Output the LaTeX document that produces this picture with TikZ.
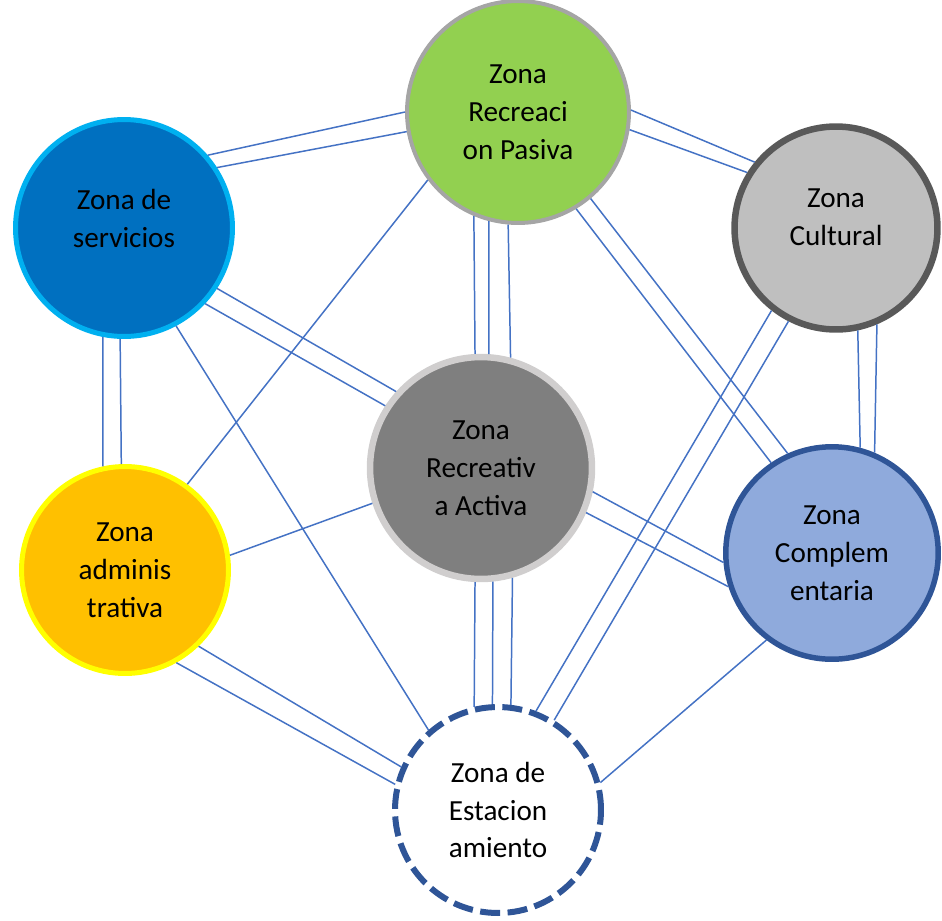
\documentclass[tikz,border=0pt]{standalone}
\usepackage{fontspec}
\setmainfont{Carlito}
\usetikzlibrary{positioning}
\definecolor{PasivaGreen}{HTML}{92D050}
\definecolor{PasivaRim}{HTML}{A5A5A5}
\definecolor{ServBlue}{HTML}{0070C0}
\definecolor{ServRim}{HTML}{00B0F0}
\definecolor{CultGray}{HTML}{BFBFBF}
\definecolor{CultRim}{HTML}{595959}
\definecolor{ActGray}{HTML}{7F7F7F}
\definecolor{ActRim}{HTML}{D0CECE}
\definecolor{AdmOrange}{HTML}{FFC000}
\definecolor{AdmRim}{HTML}{FFFF00}
\definecolor{CompBlue}{HTML}{8FAADC}
\definecolor{DeepBlue}{HTML}{2F5597}
\definecolor{LinkBlue}{HTML}{4472C4}

\begin{document}
\begin{tikzpicture}[
        x=0.02cm, y=-0.02cm,
        zone/.style={circle, inner sep=0pt, align=center, text=black, font=\fontsize{16.6pt}{21.6pt}\selectfont},
        ztext/.style={align=center, text=black, font=\fontsize{16.6pt}{21.6pt}\selectfont},
        link/.style={draw=LinkBlue, line width=0.85pt}
    ]
        \useasboundingbox (0,0) rectangle (942,920);

        % Nodes
        \node (pas) [zone, fill=PasivaGreen, draw=PasivaRim, line width=0.08cm, minimum size=4.44cm] at (518,112) {Zona\\Recreaci\\on Pasiva};
        \node (serv) [zone, fill=ServBlue, draw=ServRim, line width=0.1cm, minimum size=4.34cm,
            label={[ztext, yshift=0.2cm]center:Zona de\\servicios}] at (124,228) {};
        \node (cult) [zone, fill=CultGray, draw=CultRim, line width=0.13cm, minimum size=4.06cm,
            label={[ztext, yshift=0.22cm]center:Zona\\Cultural}] at (836,228) {};
        \node (act) [zone, fill=ActGray, draw=ActRim, line width=0.13cm, minimum size=4.44cm] at (481,468) {Zona\\Recreativ\\a Activa};
        \node (adm) [zone, fill=AdmOrange, draw=AdmRim, line width=0.1cm, minimum size=4.14cm] at (125,570) {Zona\\adminis\\trativa};
        \node (comp) [zone, fill=CompBlue, draw=DeepBlue, line width=0.11cm, minimum size=4.25cm] at (832,553) {Zona\\Complem\\entaria};
        \node (est) [zone, fill=white, draw=DeepBlue, line width=0.12cm, dash pattern=on 0.4cm off 0.15cm, minimum size=4.12cm] at (498,810) {Zona de\\Estacion\\amiento};

        % Connectors
        \draw [link] (serv.41.8) -- (pas.180.5);
        \draw [link] (serv.33.1) -- (pas.190);
        \draw [link] (pas.1.5) -- (cult.141.4);
        \draw [link] (pas.-9.3) -- (cult.148.5);
        \draw [link] (pas.-113.2) -- (act.93.8);
        \draw [link] (pas.-105.1) -- (act.86);
        \draw [link] (pas.-95.3) -- (act.75.5);
        \draw [link] (pas.217.1) -- (adm.54.9);
        \draw [link] (pas.-59.8) -- (comp.124.2);
        \draw [link] (pas.-50.4) -- (comp.114.4);
        \draw [link] (serv.-33.8) -- (act.138.4);
        \draw [link] (serv.-43.5) -- (act.147.7);
        \draw [link] (serv.-101.4) -- (adm.102.8);
        \draw [link] (serv.-92.1) -- (adm.92.9);
        \draw [link] (serv.-62.9) -- (est.131.9);
        \draw [link] (act.198.4) -- (adm.8);
        \draw [link] (act.-12.8) -- (comp.185.2);
        \draw [link] (act.-23.9) -- (comp.198.1);
        \draw [link] (act.-93.7) -- (est.103.8);
        \draw [link] (act.-84.3) -- (est.93.1);
        \draw [link] (act.-74.9) -- (est.83.1);
        \draw [link] (adm.-46.9) -- (est.156.7);
        \draw [link] (adm.-61.1) -- (est.166.3);
        \draw [link] (cult.232.8) -- (est.69.3);
        \draw [link] (cult.243.2) -- (est.58.6);
        \draw [link] (cult.-78.1) -- (comp.75.4);
        \draw [link] (cult.-67.5) -- (comp.67.2);
        \draw [link] (comp.-127.1) -- (est.15.8);
    \end{tikzpicture}
\end{document}
